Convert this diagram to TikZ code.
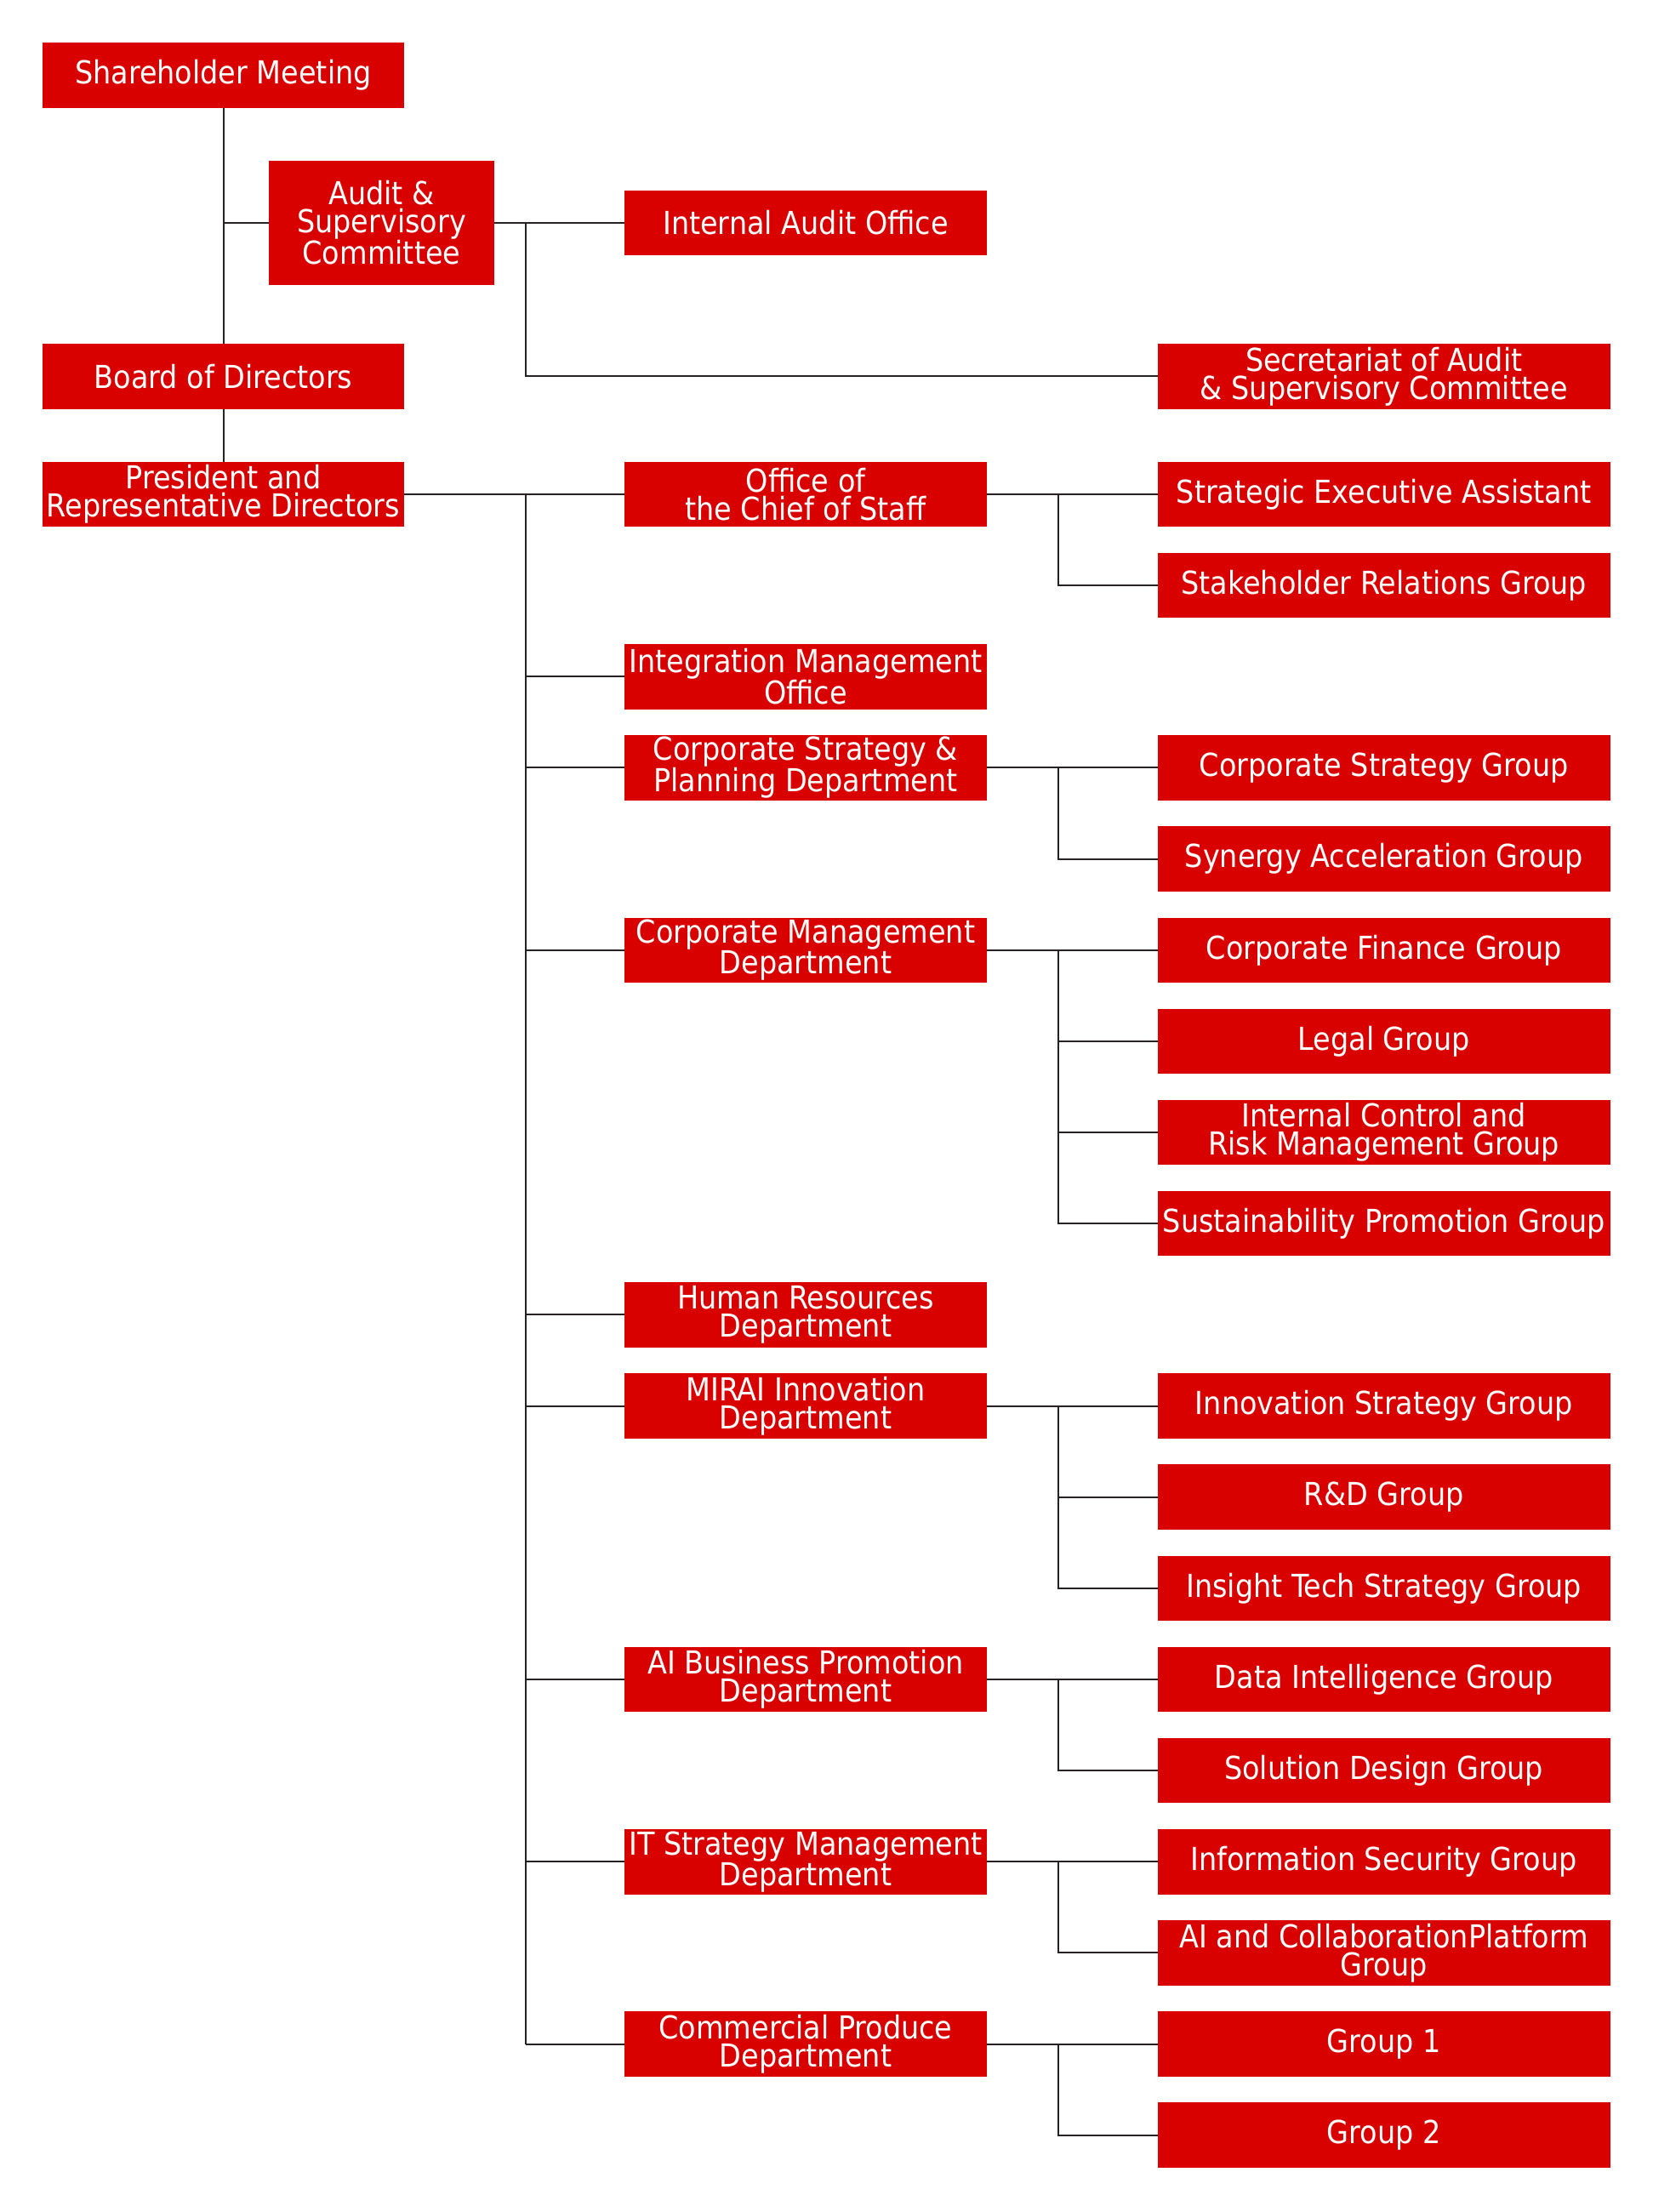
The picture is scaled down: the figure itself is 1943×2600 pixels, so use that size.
\documentclass[tikz,border=0pt]{standalone}
\usepackage{fontspec}
\IfFontExistsTF{DejaVu Sans Condensed}{\setmainfont{DejaVu Sans Condensed}}{\setmainfont{DejaVu Sans}[FakeStretch=0.9]}
\definecolor{boxred}{RGB}{217,0,0}
\definecolor{linegray}{RGB}{40,33,33}
\tikzset{
  box/.style={fill=boxred, text=white, inner sep=0pt, align=center,
    font=\fontsize{37.2}{33}\selectfont},
  lbox/.style={box, minimum width=425pt, minimum height=76.5pt},
  mbox/.style={box, minimum width=426pt, minimum height=76.5pt},
  rbox/.style={box, minimum width=531.5pt, minimum height=76.5pt},
  conn/.style={draw=linegray, line width=2pt},
}
\begin{document}
\begin{tikzpicture}[x=1pt,y=-1pt]
\fill[white] (0,0) rectangle (1943,2600);
\useasboundingbox (0,0) rectangle (1943,2600);
% left column
\node[lbox] (share) at (262.5,88.25) {Shareholder Meeting};
\node[box, minimum width=265pt, minimum height=146pt] (audit) at (448.5,262) {Audit \&\\Supervisory\\Committee};
\node[lbox] (board) at (262.5,442.3) {Board of Directors};
\node[lbox] (pres) at (262.5,581) {President and\\Representative Directors};
% audit related
\node[mbox] (iao) at (947,262) {Internal Audit Office};
\node[rbox] (sec) at (1626.75,442.3) {Secretariat of Audit\\\& Supervisory Committee};
% departments
\node[mbox] (off) at (947,581) {Office of\\the Chief of Staff};
\node[mbox] (img) at (947,795.3) {Integration Management\\Office};
\node[mbox] (csp) at (947,902.45) {Corporate Strategy \&\\Planning Department};
\node[mbox] (cmd) at (947,1116.75) {Corporate Management\\Department};
\node[mbox] (hrd) at (947,1545.35) {Human Resources\\Department};
\node[mbox] (mir) at (947,1652.5) {MIRAI Innovation\\Department};
\node[mbox] (aib) at (947,1973.95) {AI Business Promotion\\Department};
\node[mbox] (itm) at (947,2188.25) {IT Strategy Management\\Department};
\node[mbox] (cpd) at (947,2402.55) {Commercial Produce\\Department};
% groups
\node[rbox] (sea) at (1626.75,581) {Strategic Executive Assistant};
\node[rbox] (srg) at (1626.75,688.15) {Stakeholder Relations Group};
\node[rbox] (csg) at (1626.75,902.45) {Corporate Strategy Group};
\node[rbox] (sag) at (1626.75,1009.6) {Synergy Acceleration Group};
\node[rbox] (cfg) at (1626.75,1116.75) {Corporate Finance Group};
\node[rbox] (leg) at (1626.75,1223.9) {Legal Group};
\node[rbox] (icr) at (1626.75,1331.05) {Internal Control and\\Risk Management Group};
\node[rbox] (spg) at (1626.75,1438.2) {Sustainability Promotion Group};
\node[rbox] (isg) at (1626.75,1652.5) {Innovation Strategy Group};
\node[rbox] (rdg) at (1626.75,1759.65) {R\&D Group};
\node[rbox] (itg) at (1626.75,1866.8) {Insight Tech Strategy Group};
\node[rbox] (dig) at (1626.75,1973.95) {Data Intelligence Group};
\node[rbox] (sdg) at (1626.75,2081.1) {Solution Design Group};
\node[rbox] (ins) at (1626.75,2188.25) {Information Security Group};
\node[rbox] (acp) at (1626.75,2295.4) {AI and CollaborationPlatform\\Group};
\node[rbox] (g1) at (1626.75,2402.55) {Group 1};
\node[rbox] (g2) at (1626.75,2509.7) {Group 2};
% junction coordinates
\coordinate (ja) at (share.south |- audit.west);
\coordinate (jb) at (618,262);
\coordinate (tr) at (618,581);
% upper connectors
\draw[conn] (share.south) -- (board.north);
\draw[conn] (ja) -- (audit.west);
\draw[conn] (board.south) -- (pres.north);
\draw[conn] (audit.east) -- (iao.west);
\draw[conn] (jb) |- (sec.west);
% trunk
\draw[conn] (pres.east) -- (off.west);
\draw[conn] (tr) -- (tr |- cpd.west);
\foreach \d in {img,csp,cmd,hrd,mir,aib,itm,cpd}{
  \draw[conn] (tr |- \d.west) -- (\d.west);
}
% sub-trunks
\coordinate (sx) at (1243.5,0);
\draw[conn] (off.east) -- (sea.west);
\draw[conn] (sx |- off.east) |- (srg.west);
\draw[conn] (csp.east) -- (csg.west);
\draw[conn] (sx |- csp.east) |- (sag.west);
\draw[conn] (cmd.east) -- (cfg.west);
\draw[conn] (sx |- cmd.east) |- (spg.west);
\draw[conn] (sx |- leg.west) -- (leg.west);
\draw[conn] (sx |- icr.west) -- (icr.west);
\draw[conn] (mir.east) -- (isg.west);
\draw[conn] (sx |- mir.east) |- (itg.west);
\draw[conn] (sx |- rdg.west) -- (rdg.west);
\draw[conn] (aib.east) -- (dig.west);
\draw[conn] (sx |- aib.east) |- (sdg.west);
\draw[conn] (itm.east) -- (ins.west);
\draw[conn] (sx |- itm.east) |- (acp.west);
\draw[conn] (cpd.east) -- (g1.west);
\draw[conn] (sx |- cpd.east) |- (g2.west);
\end{tikzpicture}
\end{document}
